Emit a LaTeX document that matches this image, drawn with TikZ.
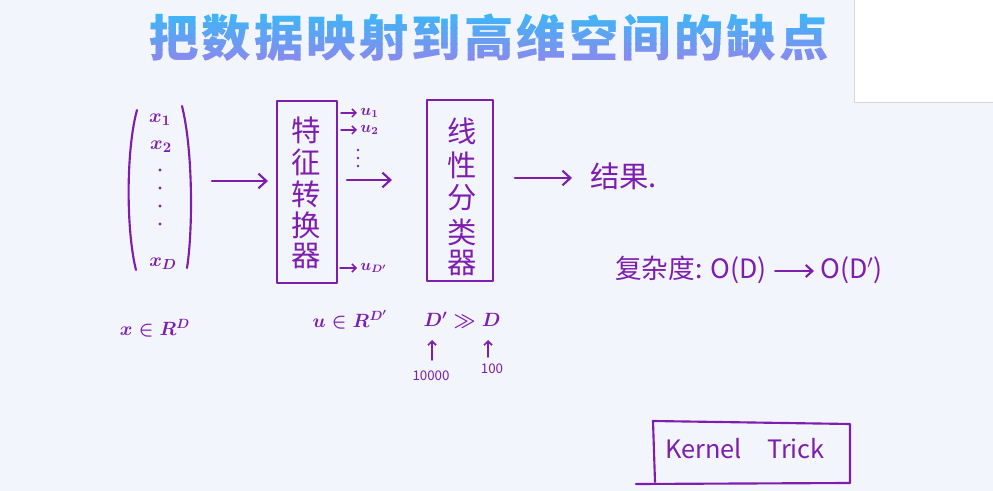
\documentclass[tikz,border=0pt]{standalone}
\usepackage{fontspec}
\setmainfont{Noto Sans CJK SC}
\newfontfamily\cjk{Noto Sans CJK SC}
\usetikzlibrary{arrows.meta,shadows}
\definecolor{bg}{HTML}{F3F5FD}
\definecolor{pen}{RGB}{125,30,175}
\definecolor{ttlA}{HTML}{3CB6F7}
\definecolor{ttlB}{HTML}{8C88EE}
\tikzset{
  ink/.style={draw=pen,line width=1.6pt,line cap=round,line join=round},
  arr/.style={ink,-{Straight Barb[length=6pt,width=11pt]}},
  sarr/.style={draw=pen,line width=1.1pt,line cap=round,-{Straight Barb[length=3pt,width=6pt]}},
  hw/.style={text=pen,inner sep=0pt,font=\cjk\fontsize{22}{22}\selectfont},
  lat/.style={text=pen,inner sep=0pt,font=\boldmath\fontsize{14}{14}\selectfont},
  small/.style={text=pen,inner sep=0pt,font=\boldmath\fontsize{12}{12}\selectfont},
  num/.style={text=pen,inner sep=0pt,font=\cjk\fontsize{10}{10}\selectfont},
  ttlc/.style={inner sep=0pt,font=\cjk\bfseries\fontsize{37}{37}\selectfont},
}
\begin{document}
\begin{tikzpicture}[x=0.75pt,y=-0.75pt]
\fill[bg] (0,0) rectangle (993,491);
\useasboundingbox (0,0) rectangle (993,491);
% top-right panel
\fill[white,drop shadow={shadow xshift=-1pt,shadow yshift=-1pt,opacity=0.25}] (855,-2) rectangle (995,102);
% title (banded gradient)
\foreach \b in {0,...,9}{
  \pgfmathsetmacro{\pc}{100-\b*11}
  \begin{scope}
    \clip (100,{12+5.3*\b}) rectangle (880,{12+5.3*(\b+1)+0.3});
    \foreach \c [count=\i from 0] in {把,数,据,映,射,到,高,维,空,间,的,缺,点}{
      \node[ttlc,text=ttlA!\pc!ttlB] (t\i-\b) at (174+52.5*\i,38) {\c};
    }
  \end{scope}
}
% vector
\draw[ink] (137,110) .. controls (126,150) and (126,230) .. (136,270);
\draw[ink] (182,106) .. controls (193,150) and (193,230) .. (187,268);
\node[lat,font=\boldmath\fontsize{15}{15}\selectfont] (x1) at (160,120) {$x_1$};
\node[lat,font=\boldmath\fontsize{15}{15}\selectfont] (x2) at (161,147) {$x_2$};
\foreach \yy in {170,188,206,224}{\fill[pen] (160,\yy) circle (1.6);}
\node[lat,font=\boldmath\fontsize{15}{15}\selectfont] (xd) at (163,264) {$x_D$};
\coordinate (va) at (212,181);
\coordinate (vb) at (268,181);
\draw[arr] (va) -- (vb);
% box 1
\draw[ink] (277,101) rectangle (337,283);
\node (b1) at (307,192) {};
\foreach \c/\yy in {特/130,征/162,转/194,换/225,器/256}{
  \node[hw] at (306,\yy) {\c};
}
\coordinate (o1) at (341,113);
\coordinate (o2) at (341,130);
\coordinate (o3) at (340,268);
\draw[sarr] (o1) -- ++(16,0) node[small,anchor=west,xshift=2pt] (u1) {$u_1$};
\draw[sarr] (o2) -- ++(16,0) node[small,anchor=west,xshift=2pt] (u2) {$u_2$};
\foreach \yy in {150,158,166}{\fill[pen] (358,\yy) circle (1.3);}
\draw[sarr] (o3) -- ++(17,0) node[small,anchor=west,xshift=2pt] (ud) {$u_{D'}$};
\coordinate (m1) at (347,180);
\coordinate (m2) at (392,180);
\draw[arr] (m1) -- (m2);
% box 2
\draw[ink] (427,100) rectangle (493,281);
\foreach \c/\yy in {线/131,性/165,分/198,类/232,器/263}{
  \node[hw] at (462,\yy) {\c};
}
\coordinate (r1) at (515,178);
\coordinate (r2) at (572,178);
\draw[arr] (r1) -- (r2);
\node[hw,anchor=west] (res) at (590,176) {结果.};
% complexity
\node[hw,anchor=west,font=\cjk\fontsize{20}{20}\selectfont] (cx) at (615,270) {复杂度: O(D)};
\node[hw,anchor=west,font=\cjk\fontsize{20}{20}\selectfont] (cy) at (820,270) {O(D$'$)};
\draw[arr,-{Straight Barb[length=5pt,width=9pt]}] (cx.east) ++(8,1) -- ([shift={(-6,1)}]cy.west);
% bottom labels
\node[lat] (xr) at (155,328) {$x\in R^D$};
\node[lat] (ur) at (350,320) {$u\in R^{D'}$};
\node[lat] (dd) at (462,320) {$D'\gg D$};
\coordinate (a1) at (432,360);
\coordinate (a1e) at (432,340);
\coordinate (a2) at (488,357);
\coordinate (a2e) at (488,340);
\draw[sarr,line width=1.3pt] (a1) -- (a1e);
\draw[sarr,line width=1.3pt] (a2) -- (a2e);
\node[num] (n1) at (431,376) {10000};
\node[num] (n2) at (492,369) {100};
% kernel trick
\draw[ink] (653,421) -- (850,424) -- (850,483) -- (636,484);
\draw[ink] (653,421) -- (655,482);
\node[hw,font=\cjk\fontsize{19}{19}\selectfont] (kt) at (745,449) {Kernel\quad Trick};
\end{tikzpicture}
\end{document}
